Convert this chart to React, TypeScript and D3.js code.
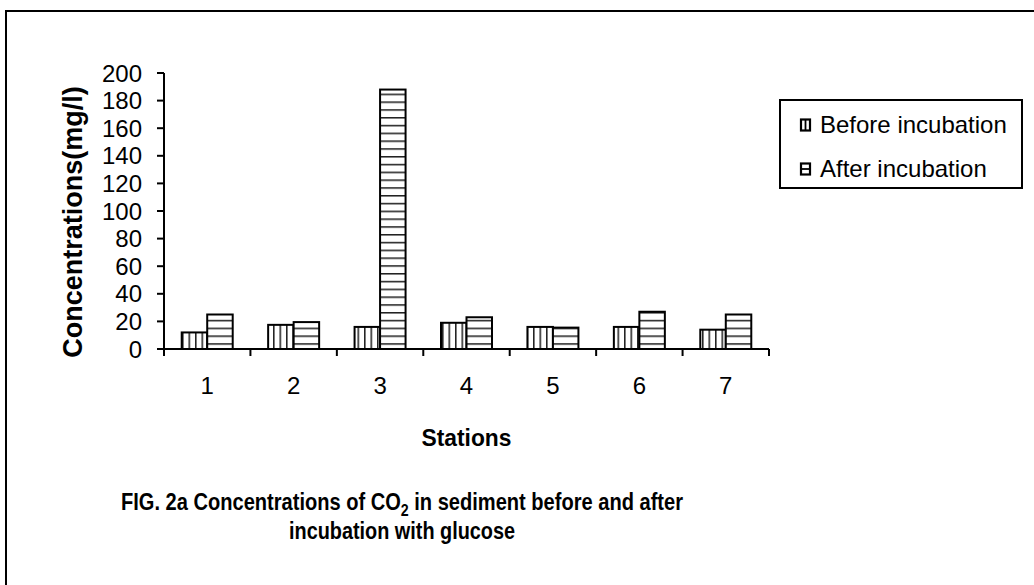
import React from "react";
import * as d3 from "d3";

const stations = ["1", "2", "3", "4", "5", "6", "7"];
const seriesNames = ["Before incubation", "After incubation"];
const beforeValues = [12, 17.5, 16, 19, 16, 16, 14];
const afterValues = [25, 19.5, 188, 23, 15.5, 27, 25];
const yTicks = [0, 20, 40, 60, 80, 100, 120, 140, 160, 180, 200];

const W = 1034;
const H = 585;
const plot = { left: 164, right: 769, top: 73, bottom: 349 };
const FONT = "'Liberation Sans', Arial, Helvetica, sans-serif";

export default function App() {
  const x = d3
    .scaleBand<string>()
    .domain(stations)
    .range([plot.left, plot.right])
    .paddingInner(0.41)
    .paddingOuter(0.205);
  const xs = d3.scaleBand<string>().domain(seriesNames).range([0, x.bandwidth()]).padding(0);
  const y = d3.scaleLinear().domain([0, 200]).range([plot.bottom, plot.top]);
  const step = x.step();
  const boundaries = d3.range(stations.length + 1).map((i) => plot.left + i * step);
  const series = [beforeValues, afterValues];
  const fills = ["url(#vlines)", "url(#hlines)"];

  return (
    <svg
      width={W}
      height={H}
      style={{ position: "absolute", left: 0, top: 0, background: "#fff" }}
      fontFamily={FONT}
    >
      <defs>
        <pattern id="vlines" patternUnits="userSpaceOnUse" width={6.5} height={10}>
          <rect width={6.5} height={10} fill="#fff" />
          <line x1={0.75} y1={0} x2={0.75} y2={10} stroke="#222" strokeWidth={1.6} />
        </pattern>
        <pattern id="hlines" patternUnits="userSpaceOnUse" width={10} height={7.8}>
          <rect width={10} height={7.8} fill="#fff" />
          <line x1={0} y1={0.75} x2={10} y2={0.75} stroke="#222" strokeWidth={1.6} />
        </pattern>
      </defs>
      <rect x={0} y={0} width={W} height={H} fill="#fff" />
      <rect x={6} y={11} width={1200} height={800} fill="none" stroke="#000" strokeWidth={2} />

      {/* bars */}
      {stations.map((s, i) => (
        <g key={s}>
          {series.map((vals, j) => {
            const bx = (x(s) ?? 0) + (xs(seriesNames[j]) ?? 0);
            return (
              <rect
                key={j}
                x={bx}
                y={y(vals[i])}
                width={xs.bandwidth()}
                height={y(0) - y(vals[i])}
                fill={fills[j]}
                stroke="#000"
                strokeWidth={2}
              />
            );
          })}
        </g>
      ))}

      {/* y axis */}
      <line x1={plot.left} y1={y(200)} x2={plot.left} y2={y(0)} stroke="#000" strokeWidth={2} />
      {yTicks.map((t) => (
        <g key={t}>
          <line x1={plot.left - 7} x2={plot.left} y1={y(t)} y2={y(t)} stroke="#000" strokeWidth={2} />
          <text x={142} y={y(t) + 8.5} textAnchor="end" fontSize={24} fill="#000">
            {t}
          </text>
        </g>
      ))}

      {/* x axis */}
      <line x1={plot.left} y1={y(0)} x2={plot.right} y2={y(0)} stroke="#000" strokeWidth={2} />
      {boundaries.map((bx, i) => (
        <line key={i} x1={bx} x2={bx} y1={y(0)} y2={y(0) + 7} stroke="#000" strokeWidth={2} />
      ))}
      {stations.map((s) => (
        <text
          key={s}
          x={(x(s) ?? 0) + x.bandwidth() / 2}
          y={394}
          textAnchor="middle"
          fontSize={24}
          fill="#000"
        >
          {s}
        </text>
      ))}

      {/* axis titles */}
      <text
        transform="translate(82,222) rotate(-90)"
        textAnchor="middle"
        fontSize={27}
        fontWeight="bold"
        fill="#000"
      >
        Concentrations(mg/l)
      </text>
      <text
        x={(plot.left + plot.right) / 2}
        y={446}
        textAnchor="middle"
        fontSize={24}
        fontWeight="bold"
        fill="#000"
        textLength={90}
        lengthAdjust="spacingAndGlyphs"
      >
        Stations
      </text>

      {/* legend */}
      <rect x={780} y={100} width={242} height={88} fill="#fff" stroke="#000" strokeWidth={2} />
      {seriesNames.map((n, j) => {
        const cy = j === 0 ? 125 : 169;
        return (
          <g key={n}>
            <rect x={801} y={cy - 5.5} width={9} height={11} fill="#fff" stroke="#000" strokeWidth={2.2} />
            {j === 0 ? (
              <line x1={805.5} x2={805.5} y1={cy - 5.5} y2={cy + 5.5} stroke="#000" strokeWidth={1.8} />
            ) : (
              <line x1={801} x2={810} y1={cy} y2={cy} stroke="#000" strokeWidth={1.8} />
            )}
            <text x={820} y={cy + 8} fontSize={24} fill="#000">
              {n}
            </text>
          </g>
        );
      })}

      {/* figure caption */}
      <text
        x={402}
        y={510}
        textAnchor="middle"
        fontSize={24}
        fontWeight="bold"
        fill="#000"
        textLength={562}
        lengthAdjust="spacingAndGlyphs"
      >
        <tspan>FIG. 2a Concentrations of CO</tspan>
        <tspan fontSize={17} dy={6}>2</tspan>
        <tspan dy={-6}> in sediment before and after</tspan>
      </text>
      <text
        x={402}
        y={539}
        textAnchor="middle"
        fontSize={24}
        fontWeight="bold"
        fill="#000"
        textLength={226}
        lengthAdjust="spacingAndGlyphs"
      >
        incubation with glucose
      </text>
    </svg>
  );
}
